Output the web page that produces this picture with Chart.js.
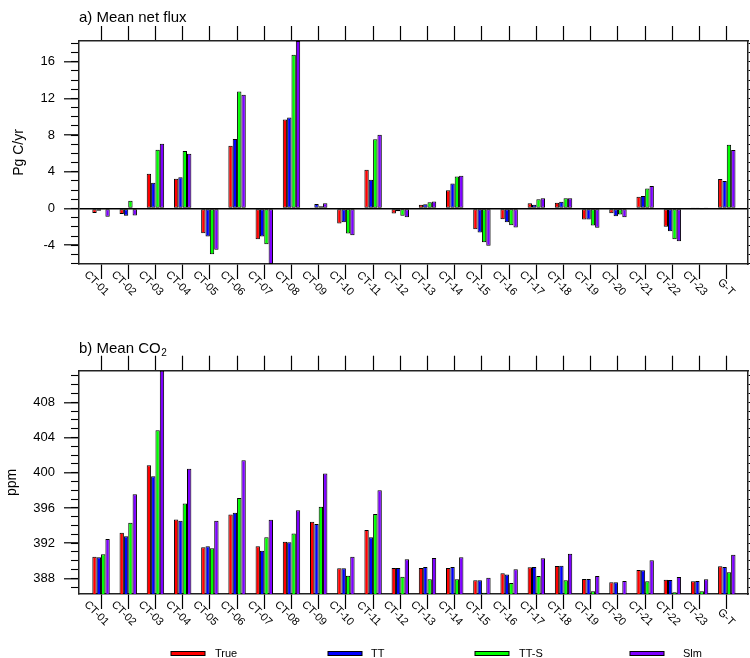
<!DOCTYPE html>
<html>
<head>
<meta charset="utf-8">
<script src="https://cdn.jsdelivr.net/npm/chart.js@4.4.0/dist/chart.umd.min.js"></script>
<style>
  html, body { margin: 0; padding: 0; background: #fff; }
  #wrap { position: relative; width: 750px; height: 658px; }
  canvas { position: absolute; left: 0; }
  #fluxChart { top: 0; }
  #co2Chart { top: 300px; }
</style>
</head>
<body>
<div id="wrap">
  <canvas id="fluxChart" width="750" height="300"></canvas>
  <canvas id="co2Chart" width="750" height="358"></canvas>
</div>
<script>
const categories = ["CT-01", "CT-02", "CT-03", "CT-04", "CT-05", "CT-06", "CT-07", "CT-08",
    "CT-09", "CT-10", "CT-11", "CT-12", "CT-13", "CT-14", "CT-15", "CT-16",
    "CT-17", "CT-18", "CT-19", "CT-20", "CT-21", "CT-22", "CT-23", "G-T"]
const seriesNames = ["True", "TT", "TT-S", "Slm"]
const seriesColors = ["#ff0000", "#0000ff", "#00ff00", "#7d00ff"]

// a) mean net flux, Pg C/yr
const fluxTrue = [-0.5, -0.6, 3.8, 3.25, -2.7, 6.85, -3.35, 9.69, 0.1, -1.64, 4.23, -0.55,
    0.4, 2.0, -2.26, -1.17, 0.58, 0.62, -1.2, -0.51, 1.28, -2.0, 0.02, 3.21]
const fluxTT = [-0.25, -0.8, 2.8, 3.4, -3.06, 7.58, -3.06, 9.91, 0.5, -1.5, 3.13, -0.3,
    0.47, 2.73, -2.62, -1.5, 0.4, 0.73, -1.2, -0.84, 1.35, -2.48, 0.02, 2.99]
const fluxTTS = [-0.05, 0.85, 6.4, 6.27, -5.0, 12.75, -3.9, 16.76, 0.25, -2.73, 7.54, -0.8,
    0.69, 3.5, -3.68, -1.82, 1.02, 1.13, -1.86, -0.66, 2.19, -3.35, -0.02, 6.96]
const fluxSlm = [-0.9, -0.75, 7.07, 5.98, -4.5, 12.39, -6.05, 18.26, 0.58, -2.92, 8.05, -0.95,
    0.77, 3.57, -4.05, -2.08, 1.13, 1.13, -2.11, -0.95, 2.44, -3.57, 0.02, 6.38]

// b) mean CO2, ppm
const co2True = [390.46, 393.19, 400.84, 394.7, 391.52, 395.27, 391.64, 392.17, 394.44, 389.14, 393.49, 389.17,
    389.17, 389.17, 387.77, 388.57, 389.25, 389.4, 387.92, 387.55, 388.95, 387.85, 387.66, 389.36]
const co2TT = [390.39, 392.77, 399.59, 394.55, 391.64, 395.46, 391.14, 392.09, 394.17, 389.14, 392.66, 389.17,
    389.29, 389.29, 387.77, 388.45, 389.29, 389.44, 387.92, 387.55, 388.91, 387.81, 387.7, 389.29]
const co2TTS = [390.73, 394.33, 404.82, 396.52, 391.41, 397.13, 392.66, 393.11, 396.14, 388.3, 395.31, 388.19,
    387.89, 387.89, 386.37, 387.47, 388.27, 387.77, 386.52, 386.25, 387.66, 386.41, 386.52, 388.68]
const co2Slm = [392.47, 397.55, 411.6, 400.46, 394.55, 401.41, 394.67, 395.73, 399.93, 390.46, 398.0, 390.16,
    390.31, 390.39, 388.08, 389.02, 390.27, 390.8, 388.27, 387.7, 390.05, 388.15, 387.89, 390.69]

const fluxRange = [-6.05, 18.26]
const co2Range = [386.22, 411.6]
const xRange = [-0.81, 23.78]

const FONT = '"Liberation Sans", Arial, Helvetica, sans-serif'
Chart.defaults.font.family = FONT
Chart.defaults.color = "#000"

function makeDatasets(series) {
    return series.map((vals, k) => ({
        label: seriesNames[k],
        data: vals.map((v, i) => ({ x: i, y: v })),
        backgroundColor: seriesColors[k],
        borderColor: "#000",
        borderWidth: 1,
        borderSkipped: false,
        categoryPercentage: 0.64,
        barPercentage: 1
    }))
}

const frame = { display: true, color: "#222", width: 1.5 }

function makeOptions(p) {
    const xAxis = (pos, h, id) => ({
        type: "linear",
        position: pos,
        min: xRange[0],
        max: xRange[1],
        offset: false,
        ticks: { display: false, stepSize: 1, includeBounds: false, autoSkip: false },
        grid: { drawOnChartArea: false, offset: false, drawTicks: true, tickLength: 15, tickColor: "#000", tickWidth: 1.2 },
        border: frame,
        afterFit: s => { s.height = h }
    })
    return {
        responsive: false,
        animation: false,
        layout: { padding: 0 },
        plugins: {
            legend: { display: false },
            tooltip: { enabled: false },
            panelText: p.text
        },
        scales: {
            x: xAxis("bottom", p.bottomH),
            xTop: xAxis("top", p.topH),
            y: {
                position: "left",
                weight: 1,
                min: p.range[0],
                max: p.range[1],
                ticks: { stepSize: 4, includeBounds: false, padding: 9, font: { size: 13 }, color: "#000" },
                grid: {
                    drawOnChartArea: p.zeroLine,
                    color: c => (p.zeroLine && c.tick && c.tick.value === 0) ? "#000" : "rgba(0,0,0,0)",
                    lineWidth: 1.6,
                    tickLength: 15, tickColor: "#000", tickWidth: 1.2
                },
                border: frame,
                title: { display: true, text: p.yTitle, font: { size: 14 }, color: "#000", padding: { top: p.titlePad } },
                afterFit: s => { s.width = 79 }
            },
            yMinor: {
                position: "left",
                weight: 0,
                min: p.range[0],
                max: p.range[1],
                ticks: { display: false, stepSize: 1, includeBounds: false },
                grid: { drawOnChartArea: false, tickLength: 8, tickColor: "#000", tickWidth: 1.1 },
                border: { display: false },
                afterFit: s => { s.width = 0 }
            },
            yRight: {
                position: "right",
                min: p.range[0],
                max: p.range[1],
                ticks: { display: false, stepSize: 1, includeBounds: false },
                grid: { drawOnChartArea: false, tickLength: 8, tickColor: "#000", tickWidth: 1.1 },
                border: frame,
                afterFit: s => { s.width = 2 }
            }
        }
    }
}

const panelText = {
    id: "panelText",
    afterDraw(chart, args, opts) {
        const { ctx, chartArea } = chart
        const xs = chart.scales.x
        ctx.save()
        ctx.fillStyle = "#000"

        // rotated category labels
        ctx.font = "11px " + FONT
        ctx.textAlign = "right"
        ctx.textBaseline = "middle"
        categories.forEach((name, i) => {
            const px = xs.getPixelForValue(i)
            ctx.save()
            ctx.translate(px + 6, chartArea.bottom + 30)
            ctx.rotate(Math.PI / 4)
            ctx.fillText(name, 0, 0)
            ctx.restore()
        })

        // panel title
        ctx.textAlign = "left"
        ctx.textBaseline = "alphabetic"
        ctx.font = "15px " + FONT
        ctx.fillText(opts.title, chartArea.left, opts.titleY)
        if (opts.sub) {
            const w = ctx.measureText(opts.title).width
            ctx.font = "10px " + FONT
            ctx.fillText(opts.sub, chartArea.left + w + 0.5, opts.titleY + 3)
        }

        // legend
        if (opts.legend) {
            ctx.font = "11px " + FONT
            ctx.textBaseline = "middle"
            opts.legend.boxX.forEach((bx, k) => {
                ctx.fillStyle = seriesColors[k]
                ctx.fillRect(bx, opts.legend.y, 34, 4)
                ctx.strokeStyle = "#000"
                ctx.lineWidth = 1
                ctx.strokeRect(bx, opts.legend.y, 34, 4)
                ctx.fillStyle = "#000"
                ctx.fillText(seriesNames[k], opts.legend.textX[k], opts.legend.y + 2)
            })
        }
        ctx.restore()
    }
}

new Chart(document.getElementById("fluxChart"), {
    type: "bar",
    data: { datasets: makeDatasets([fluxTrue, fluxTT, fluxTTS, fluxSlm]) },
    options: makeOptions({
        range: fluxRange, zeroLine: true, yTitle: "Pg C/yr", titlePad: 11,
        topH: 41, bottomH: 36,
        text: { title: "a) Mean net flux", titleY: 22 }
    }),
    plugins: [panelText]
})

new Chart(document.getElementById("co2Chart"), {
    type: "bar",
    data: { datasets: makeDatasets([co2True, co2TT, co2TTS, co2Slm]) },
    options: makeOptions({
        range: co2Range, zeroLine: false, yTitle: "ppm", titlePad: 4,
        topH: 70.7, bottomH: 64,
        text: {
            title: "b) Mean CO", sub: "2", titleY: 52.5,
            legend: { y: 351.5, boxX: [171, 328, 475, 630], textX: [215, 371, 519, 683] }
        }
    }),
    plugins: [panelText]
})
</script>
</body>
</html>
